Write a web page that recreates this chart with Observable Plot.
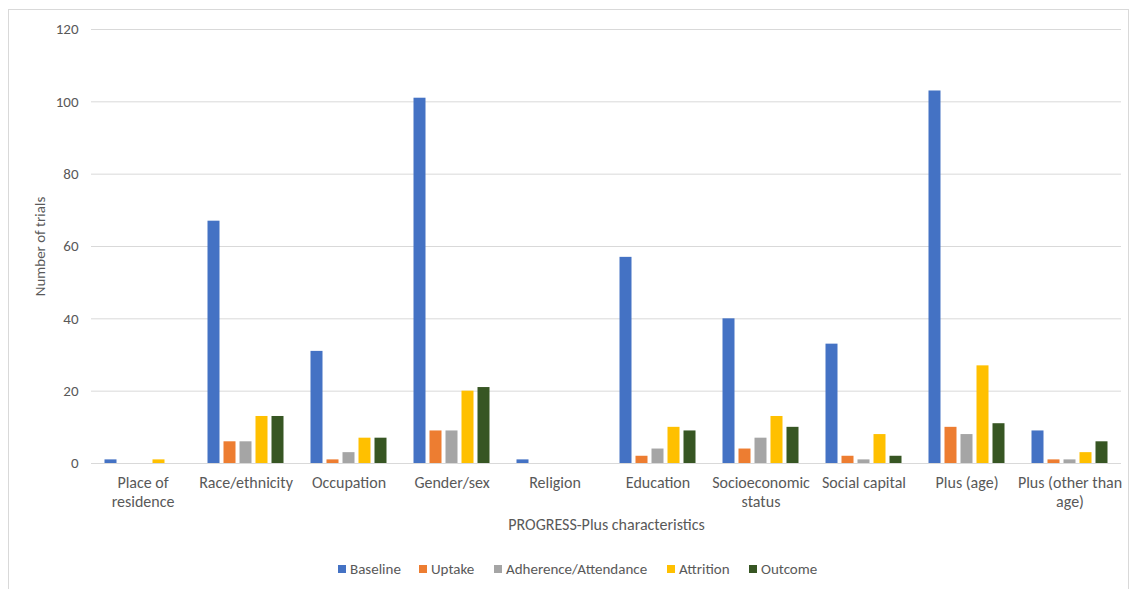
<!DOCTYPE html>
<html>
<head>
<meta charset="utf-8">
<script src="https://cdn.jsdelivr.net/npm/d3@7"></script>
<script src="https://cdn.jsdelivr.net/npm/@observablehq/plot@0.6"></script>
<style>
  html, body { margin: 0; padding: 0; background: #fff; }
  body { width: 1131px; height: 589px; position: relative; overflow: hidden;
         font-family: Carlito, Calibri, Lato, "Liberation Sans", Arial, sans-serif; color: #595959; }
  #frame { position: absolute; left: 8px; top: 9px; width: 1121px; height: 600px;
           border: 1px solid #d9d9d9; box-sizing: border-box; pointer-events: none; }
  #chart { position: absolute; left: 0; top: 0; }
  #legend { position: absolute; left: 0; top: 561px; width: 1131px; height: 18px;
            font-size: 15px; color: #595959; }
  .item { position: absolute; top: 0; white-space: nowrap; line-height: 16px; }
  .sw { display: inline-block; width: 8px; height: 8px; margin-right: 4px; vertical-align: 1px; }
</style>
</head>
<body>
<div id="chart"></div>
<div id="legend"></div>
<div id="frame"></div>
<script>
const categories = ["Place of residence", "Race/ethnicity", "Occupation", "Gender/sex", "Religion",
  "Education", "Socioeconomic status", "Social capital", "Plus (age)", "Plus (other than age)"];
const tickLabels = ["Place of\nresidence", "Race/ethnicity", "Occupation", "Gender/sex", "Religion",
  "Education", "Socioeconomic\nstatus", "Social capital", "Plus (age)", "Plus (other than\nage)"];
const seriesNames = ["Baseline", "Uptake", "Adherence/Attendance", "Attrition", "Outcome"];
const seriesColors = ["#4472C4", "#ED7D31", "#A5A5A5", "#FFC000", "#375623"];
const baseline   = [1, 67, 31, 101, 1, 57, 40, 33, 103, 9];
const uptake     = [0, 6, 1, 9, 0, 2, 4, 2, 10, 1];
const adherence  = [0, 6, 3, 9, 0, 4, 7, 1, 8, 1];
const attrition  = [1, 13, 7, 20, 0, 10, 13, 8, 27, 3];
const outcome    = [0, 13, 7, 21, 0, 9, 10, 2, 11, 6];
const yTicks = [0, 20, 40, 60, 80, 100, 120];

const seriesValues = [baseline, uptake, adherence, attrition, outcome];
const data = [];
seriesNames.forEach((s, si) => categories.forEach((c, ci) =>
  data.push({category: c, series: s, value: seriesValues[si][ci]})));

const W = 1131, H = 545, ML = 91, MR = 10, MT = 29, MB = 82;
const band = (W - ML - MR) / categories.length;
const barW = 12, step = 16;
const groupW = step * (seriesNames.length - 1) + barW;

const barMarks = seriesNames.map((s, si) => {
  const left = (band - groupW) / 2 + step * si;
  return Plot.barY(data.filter(d => d.series === s), {
    x: "category", y: "value", fill: seriesColors[si],
    insetLeft: left, insetRight: band - left - barW
  });
});

const fontFamily = 'Carlito, Calibri, Lato, "Liberation Sans", Arial, sans-serif';

const chart = Plot.plot({
  width: W, height: H,
  marginLeft: ML, marginRight: MR, marginTop: MT, marginBottom: MB,
  style: {fontFamily, fontSize: "15px", color: "#595959", background: "transparent"},
  x: {type: "band", domain: categories, padding: 0, axis: null},
  y: {domain: [0, 120], axis: null},
  marks: [
    Plot.ruleY(yTicks, {stroke: "#d9d9d9", strokeWidth: 1}),
    ...barMarks,
    Plot.text(yTicks, {y: d => d, text: d => String(d), frameAnchor: "left", dx: -13,
      textAnchor: "end", fill: "#595959", fontSize: 15}),
    Plot.text(categories, {x: d => d, text: (d, i) => tickLabels[i], frameAnchor: "bottom",
      dy: 11, lineAnchor: "top", lineHeight: 1.2, fill: "#595959", fontSize: 16}),
    Plot.text(["PROGRESS-Plus characteristics"], {frameAnchor: "bottom", dy: 61, lineAnchor: "middle",
      fill: "#595959", fontSize: 16}),
    Plot.text(["Number of trials"], {frameAnchor: "left", dx: -51, rotate: -90, textAnchor: "middle",
      fill: "#595959", fontSize: 15})
  ]
});
document.getElementById("chart").appendChild(chart);

// legend
const legendLeft = [338, 419, 494, 667, 749];
const legend = d3.select("#legend");
seriesNames.forEach((s, i) => {
  const it = legend.append("div").attr("class", "item").style("left", legendLeft[i] + "px");
  it.append("span").attr("class", "sw").style("background", seriesColors[i]);
  it.append("span").text(s);
});
</script>
</body>
</html>
